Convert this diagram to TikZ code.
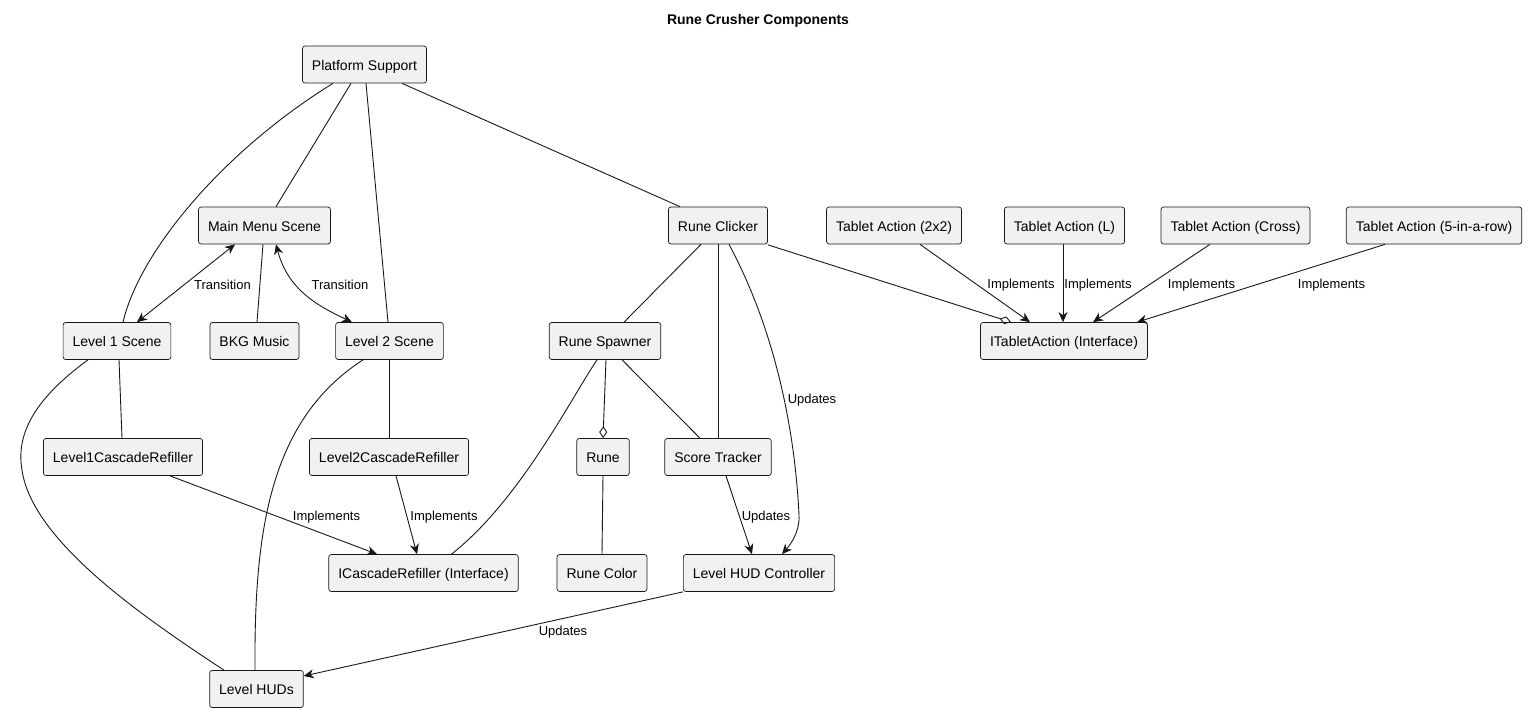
\documentclass[tikz,border=0pt]{standalone}
\usepackage{fontspec}
\setmainfont{Liberation Sans}
\usetikzlibrary{arrows.meta,calc}
\definecolor{edgec}{HTML}{181818}
\definecolor{boxfill}{HTML}{F1F1F1}
\tikzset{
  comp/.style={draw=edgec, fill=boxfill, rounded corners=2.5pt, line width=0.7pt,
    minimum height=37pt, inner xsep=9.5pt, inner ysep=0pt,
    text height=12pt, text depth=1pt, font=\fontsize{14}{16}\selectfont, text=black},
  link/.style={draw=edgec, line width=0.9pt},
  tip/.tip={Stealth[length=10pt,width=9pt,inset=3pt]},
  arr/.style={link, -tip},
  biarr/.style={link, tip-tip},
  agg/.style={link, -{Diamond[open, length=12pt, width=8pt]}},
  lbl/.style={font=\fontsize{13}{15}\selectfont, text=black, inner sep=0pt},
  ttl/.style={font=\fontsize{14}{16}\selectfont\bfseries, text=black, inner sep=0pt}
}
\begin{document}
\begin{tikzpicture}[x=1pt, y=-1pt]
\useasboundingbox (0,0) rectangle (1529,713);

\node[ttl] (title) at (758,20.5) {Rune Crusher Components};

% components
\node[comp] (ps)   at (364.5,64.5) {Platform Support};
\node[comp] (mm)   at (264.5,225.5) {Main Menu Scene};
\node[comp] (rc)   at (718,225.5) {Rune Clicker};
\node[comp] (t1)   at (894,225.5) {Tablet Action (2x2)};
\node[comp] (tl)   at (1064.5,225.5) {Tablet Action (L)};
\node[comp] (tc)   at (1235.5,225.5) {Tablet Action (Cross)};
\node[comp] (t5)   at (1434,225.5) {Tablet Action (5-in-a-row)};
\node[comp] (l1)   at (117,341) {Level 1 Scene};
\node[comp] (bkg)  at (254.5,341) {BKG Music};
\node[comp] (l2)   at (389.5,341) {Level 2 Scene};
\node[comp] (rs)   at (605,341) {Rune Spawner};
\node[comp] (it)   at (1064,341) {ITabletAction (Interface)};
\node[comp] (c1)   at (123,457) {Level1CascadeRefiller};
\node[comp] (c2)   at (389,457) {Level2CascadeRefiller};
\node[comp] (rune) at (603,457) {Rune};
\node[comp] (st)   at (718,457) {Score Tracker};
\node[comp] (ic)   at (423.5,573) {ICascadeRefiller (Interface)};
\node[comp] (rcol) at (602,573) {Rune Color};
\node[comp] (hudc) at (759,573) {Level HUD Controller};
\node[comp] (huds) at (256.5,689) {Level HUDs};

% platform support links
\draw[link] ([xshift=-31.5pt]ps.south) .. controls (225,150) and (140,250) .. ([xshift=6pt]l1.north);
\draw[link] ([xshift=-13.5pt]ps.south) -- ([xshift=11.5pt]mm.north);
\draw[link] ([xshift=1.5pt]ps.south) -- ([xshift=-1.5pt]l2.north);
\draw[link] ([xshift=37.5pt]ps.south) -- ([xshift=-38pt]rc.north);

% main menu
\draw[biarr] ([xshift=-29.5pt]mm.south) -- ([xshift=20pt]l1.north)
  node[lbl] at (222.5,285) {Transition};
\draw[link] ([xshift=-1.5pt]mm.south) -- ([xshift=2.5pt]bkg.north);
\draw[biarr] ([xshift=11.5pt]mm.south) .. controls (288,290) and (318,306) .. ([xshift=-37.5pt]l2.north)
  node[lbl] at (340,285) {Transition};

% level scenes
\draw[link] ([xshift=2pt]l1.south) -- ([xshift=-1pt]c1.north);
\draw[link] ([xshift=-29pt]l1.south) .. controls (40,395) and (15,430) .. (22,470)
  .. controls (32,540) and (140,615) .. ([xshift=-32.5pt]huds.north);
\draw[link] ([xshift=-0.5pt]l2.south) -- (c2.north);
\draw[link] ([xshift=-26.5pt]l2.south) .. controls (270,420) and (254,530) .. ([xshift=-1.5pt]huds.north);

% cascade refillers
\draw[arr] ([xshift=47pt]c1.south) -- ([xshift=-46.5pt]ic.north)
  node[lbl] at (326.5,517) {Implements};
\draw[arr] ([xshift=7pt]c2.south) -- ([xshift=-6.5pt]ic.north)
  node[lbl] at (444,517) {Implements};

% rune spawner
\draw[link] ([xshift=-8pt]rs.south) .. controls (570,400) and (520,500) .. ([xshift=28pt]ic.north);
\draw[agg] ([xshift=1pt]rs.south) -- (rune.north);
\draw[link] ([xshift=17pt]rs.south) -- ([xshift=-18pt]st.north);
\draw[link] (rune.south) -- (rcol.north);

% rune clicker
\draw[link] ([xshift=-17pt]rc.south) -- ([xshift=19pt]rs.north);
\draw[link] (rc.south) -- (st.north);
\draw[arr] ([xshift=11pt]rc.south) .. controls (775,330) and (795,430) .. (799,515)
  .. controls (800,532) and (790,545) .. ([xshift=23pt]hudc.north)
  node[lbl] at (812,400) {Updates};
\draw[agg] ([yshift=-0.5pt]rc.south east) -- ([xshift=-53pt]it.north);

% HUD updates
\draw[arr] ([xshift=8pt]st.south) -- ([xshift=-7pt]hudc.north)
  node[lbl] at (766,517) {Updates};
\draw[arr] (hudc.south west) -- ([yshift=13pt]huds.east)
  node[lbl] at (563,632) {Updates};

% tablet actions
\draw[arr] ([xshift=26pt]t1.south) -- ([xshift=-34pt]it.north)
  node[lbl] at (1021,285) {Implements};
\draw[arr] ([xshift=-1.5pt]tl.south) -- ([xshift=-1pt]it.north)
  node[lbl] at (1098,285) {Implements};
\draw[arr] ([xshift=-25.5pt]tc.south) -- ([xshift=29pt]it.north)
  node[lbl] at (1201.5,285) {Implements};
\draw[arr] ([xshift=-49pt]t5.south) -- ([xshift=73pt]it.north)
  node[lbl] at (1331.5,285) {Implements};
\end{tikzpicture}
\end{document}
